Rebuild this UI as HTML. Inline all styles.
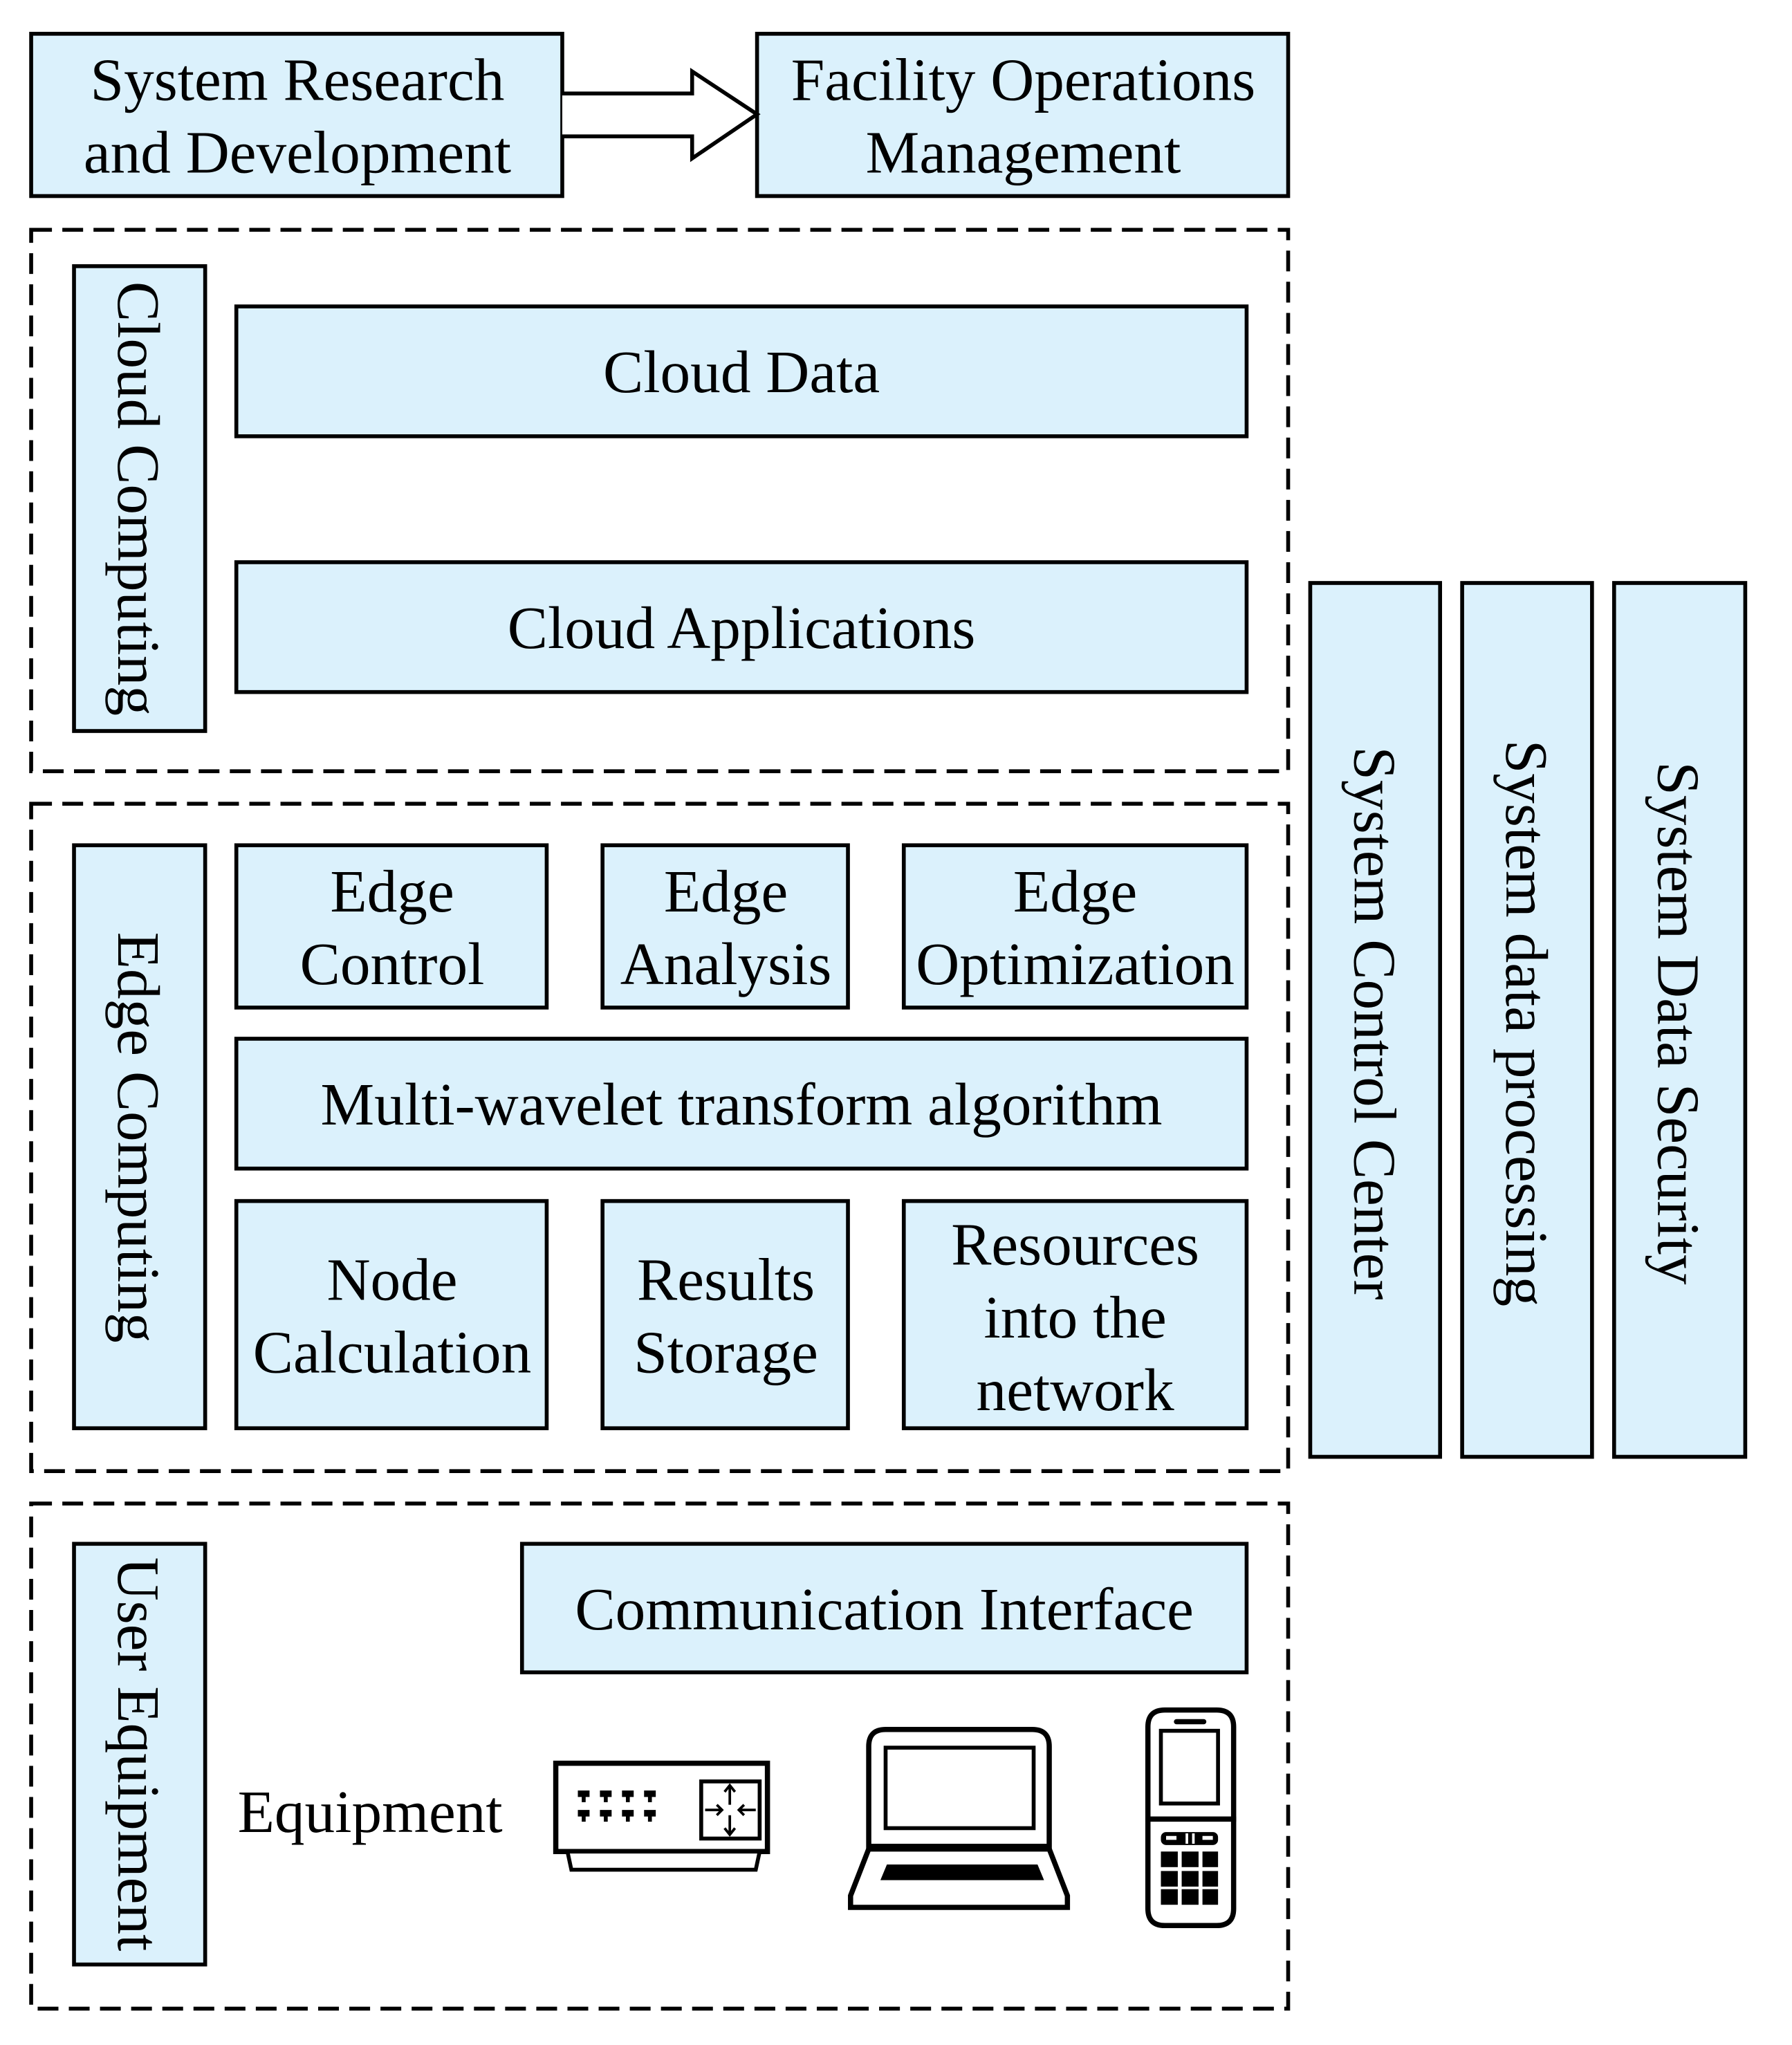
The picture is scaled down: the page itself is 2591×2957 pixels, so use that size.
<!DOCTYPE html>
<html><head><meta charset="utf-8"><style>
html,body{margin:0;padding:0;background:#fff}
svg{display:block}
text{font-family:"Liberation Serif",serif;font-size:46.5px;fill:#000}
</style></head><body>
<svg width="2591" height="2957" viewBox="0 0 1380 1575" preserveAspectRatio="none" xmlns="http://www.w3.org/2000/svg">
<g fill="#dbf1fc" stroke="#000" stroke-width="3">
<rect x="24" y="26" width="409" height="125"/>
<rect x="583" y="26" width="409" height="125"/>
<rect x="57" y="205" width="101" height="358"/>
<rect x="182" y="236" width="778" height="100"/>
<rect x="182" y="433" width="778" height="100"/>
<rect x="57" y="651" width="101" height="449"/>
<rect x="182" y="651" width="239" height="125"/>
<rect x="464" y="651" width="189" height="125"/>
<rect x="696" y="651" width="264" height="125"/>
<rect x="182" y="800" width="778" height="100"/>
<rect x="182" y="925" width="239" height="175"/>
<rect x="464" y="925" width="189" height="175"/>
<rect x="696" y="925" width="264" height="175"/>
<rect x="57" y="1189" width="101" height="324"/>
<rect x="402" y="1189" width="558" height="99"/>
<rect x="1009" y="449" width="100" height="673"/>
<rect x="1126" y="449" width="100" height="673"/>
<rect x="1243" y="449" width="101" height="673"/>
</g>
<g fill="none" stroke="#000" stroke-width="3" stroke-dasharray="16 8">
<rect x="24" y="177" width="968" height="417"/>
<rect x="24" y="619" width="968" height="514"/>
<rect x="24" y="1158" width="968" height="389"/>
</g>
<path d="M433 72 H533 V55 L583 88 L533 122 V105 H433" fill="#fff" stroke="#000" stroke-width="3"/>
<g text-anchor="middle">
<text x="229" y="77">System Research</text>
<text x="229" y="133">and Development</text>
<text x="788" y="77">Facility Operations</text>
<text x="788" y="133">Management</text>
<text x="571" y="302">Cloud Data</text>
<text x="571" y="499">Cloud Applications</text>
<text x="302" y="702">Edge</text>
<text x="302" y="758">Control</text>
<text x="559" y="702">Edge</text>
<text x="559" y="758">Analysis</text>
<text x="828" y="702">Edge</text>
<text x="828" y="758">Optimization</text>
<text x="571" y="866">Multi-wavelet transform algorithm</text>
<text x="302" y="1001">Node</text>
<text x="302" y="1057">Calculation</text>
<text x="559" y="1001">Results</text>
<text x="559" y="1057">Storage</text>
<text x="828" y="974">Resources</text>
<text x="828" y="1030">into the</text>
<text x="828" y="1086">network</text>
<text x="681" y="1255">Communication Interface</text>
<text transform="translate(107,384) rotate(90)" y="16">Cloud Computing</text>
<text transform="translate(107,876) rotate(90)" y="16">Edge Computing</text>
<text transform="translate(107,1351) rotate(90)" y="16">User Equipment</text>
<text transform="translate(1059,788) rotate(90)" y="16">System Control Center</text>
<text transform="translate(1176,788) rotate(90)" y="16">System data processing</text>
<text transform="translate(1293,788) rotate(90)" y="16">System Data Security</text>
</g>
<text x="183" y="1411">Equipment</text>
<!-- switch -->
<g stroke="#000" stroke-width="4" fill="#fff">
<rect x="428" y="1358" width="163" height="68"/>
<path d="M437 1426 H585 L582 1440 H440 Z" stroke-width="3"/>
<rect x="540" y="1372" width="45" height="44" stroke-width="3"/>
</g>
<g fill="#000">
<path d="M445 1379 h9 v5 h-3 v4 h-3 v-4 h-3z"/><path d="M462 1379 h9 v5 h-3 v4 h-3 v-4 h-3z"/><path d="M479 1379 h9 v5 h-3 v4 h-3 v-4 h-3z"/><path d="M496 1379 h9 v5 h-3 v4 h-3 v-4 h-3z"/>
<path d="M445 1394 h9 v5 h-3 v4 h-3 v-4 h-3z"/><path d="M462 1394 h9 v5 h-3 v4 h-3 v-4 h-3z"/><path d="M479 1394 h9 v5 h-3 v4 h-3 v-4 h-3z"/><path d="M496 1394 h9 v5 h-3 v4 h-3 v-4 h-3z"/>
</g>
<g stroke="#000" stroke-width="2" fill="none">
<path d="M562 1375 V1390 M558 1380 L562 1375 L566 1380 M562 1398 V1413 M558 1408 L562 1413 L566 1408 M543 1394 H556 M552 1390 L556 1394 L552 1398 M582 1394 H569 M573 1390 L569 1394 L573 1398"/>
</g>
<!-- laptop -->
<g stroke="#000" stroke-width="4" fill="#fff">
<path d="M669 1424 V1345 Q669 1332 682 1332 H795 Q808 1332 808 1345 V1424 Z"/>
<rect x="682" y="1346" width="114" height="62" stroke-width="3"/>
<path d="M669 1424 H808 L822 1460 V1469 H655 V1460 Z"/>
</g>
<rect x="669" y="1420" width="139" height="6" fill="#000"/>
<path d="M683 1436 H799 L804 1448 H678 Z" fill="#000"/>
<!-- phone -->
<g stroke="#000" stroke-width="4" fill="#fff">
<path d="M884 1401 V1330 Q884 1317 897 1317 H937 Q950 1317 950 1330 V1401 Z"/>
<path d="M884 1401 V1470 Q884 1483 897 1483 H937 Q950 1483 950 1470 V1401 Z"/>
<rect x="894" y="1333" width="44" height="56" stroke-width="3"/>
</g>
<rect x="904" y="1324" width="25" height="4" rx="2" fill="#000"/>
<g fill="#000">
<rect x="894" y="1411" width="44" height="10" rx="4"/>
<rect x="894" y="1426" width="13" height="12"/><rect x="910" y="1426" width="13" height="12"/><rect x="926" y="1426" width="12" height="12"/>
<rect x="894" y="1441" width="13" height="12"/><rect x="910" y="1441" width="13" height="12"/><rect x="926" y="1441" width="12" height="12"/>
<rect x="894" y="1455" width="13" height="12"/><rect x="910" y="1455" width="13" height="12"/><rect x="926" y="1455" width="12" height="12"/>
</g>
<g fill="#fff"><rect x="898" y="1414" width="8" height="3"/><rect x="926" y="1414" width="8" height="3"/><rect x="913" y="1412" width="2" height="8"/><rect x="918" y="1412" width="2" height="8"/></g>
</svg>
</body></html>
